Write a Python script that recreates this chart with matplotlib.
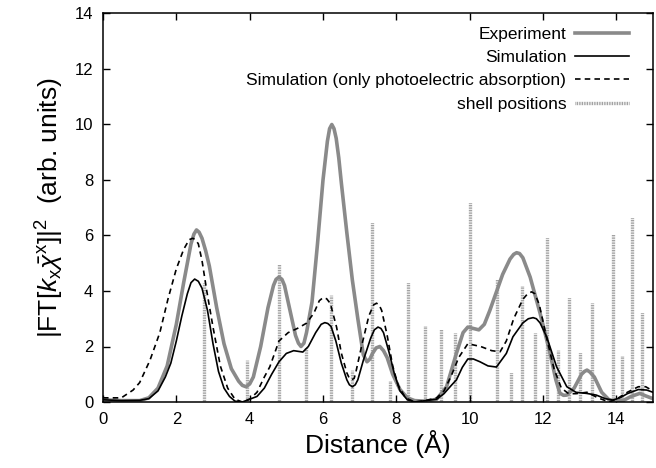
import matplotlib
matplotlib.use("Agg")
import matplotlib.pyplot as plt
from matplotlib.lines import Line2D

plt.rcParams['font.family'] = ['Liberation Sans', 'DejaVu Sans']
plt.rcParams['mathtext.fontset'] = 'custom'
plt.rcParams['mathtext.rm'] = 'Liberation Sans'
plt.rcParams['mathtext.it'] = 'Liberation Sans:italic'
plt.rcParams['mathtext.bf'] = 'Liberation Sans:bold'
plt.rcParams['lines.scale_dashes'] = False

# ---- data ----
exp_x = [0, 0.5, 1.0, 1.25, 1.5, 1.75, 2.0, 2.2, 2.4, 2.48, 2.55, 2.62, 2.7, 2.8, 2.9, 3.1, 3.3,
         3.5, 3.7, 3.8, 3.9, 4.0, 4.1, 4.3, 4.5, 4.65, 4.72, 4.8, 4.88, 4.95, 5.1, 5.25, 5.33,
         5.4, 5.48, 5.55, 5.7, 5.85, 6.0, 6.12, 6.18, 6.24, 6.3, 6.36, 6.43, 6.5, 6.65, 6.8,
         6.95, 7.1, 7.2, 7.28, 7.35, 7.45, 7.55, 7.65, 7.75, 7.9, 8.1, 8.3, 8.5, 8.8, 9.1, 9.37,
         9.64, 9.82, 9.95, 10.1, 10.25, 10.4, 10.55, 10.9, 11.1, 11.2, 11.28, 11.36, 11.45, 11.65,
         11.92, 12.19, 12.35, 12.46, 12.56, 12.65, 12.85, 13.05, 13.13, 13.2, 13.28, 13.4, 13.6,
         13.8, 14.0, 14.2, 14.4, 14.64, 14.8, 15.0]
exp_y = [0.08, 0.05, 0.05, 0.15, 0.5, 1.3, 2.8, 4.3, 5.7, 6.05, 6.2, 6.12, 5.9, 5.45, 4.9, 3.4, 2.1,
         1.2, 0.75, 0.6, 0.55, 0.65, 0.9, 2.0, 3.4, 4.2, 4.42, 4.5, 4.42, 4.2, 3.3, 2.4, 2.12,
         2.0, 2.12, 2.5, 3.6, 5.7, 8.0, 9.4, 9.85, 10.0, 9.85, 9.5, 8.8, 7.9, 6.1, 4.4,
         3.0, 1.7, 1.45, 1.55, 1.75, 1.95, 2.0, 1.85, 1.6, 1.0, 0.45, 0.15, 0.05, 0.03, 0.1, 0.55,
         1.76, 2.5, 2.7, 2.65, 2.6, 2.8, 3.3, 4.6, 5.15, 5.32, 5.38, 5.35, 5.2, 4.5,
         3.2, 1.77, 0.8, 0.32, 0.24, 0.25, 0.5, 1.0, 1.1, 1.15, 1.08, 0.9, 0.35,
         0.08, 0.03, 0.06, 0.2, 0.31, 0.22, 0.12]

sim_x = [0, 0.5, 1.0, 1.25, 1.5, 1.7, 1.85, 2.0, 2.15, 2.3, 2.4, 2.5, 2.6, 2.7, 2.85, 3.0, 3.15,
         3.3, 3.45, 3.6, 3.8, 4.0, 4.2, 4.4, 4.6, 4.8, 5.0, 5.2, 5.45, 5.6, 5.8, 5.95, 6.05, 6.13,
         6.22, 6.35, 6.5, 6.65, 6.72, 6.8, 6.88, 6.95, 7.1, 7.3, 7.4, 7.5, 7.58, 7.65, 7.8, 7.95,
         8.1, 8.3, 8.5, 8.8, 9.1, 9.3, 9.5, 9.64, 9.8, 9.95, 10.1, 10.28, 10.5, 10.73, 11.0,
         11.18, 11.45, 11.6, 11.73, 11.82, 11.92, 12.1, 12.37, 12.65, 12.9, 13.19, 13.45, 13.7,
         13.9, 14.1, 14.3, 14.6, 14.83, 15.0]
sim_y = [0.08, 0.05, 0.06, 0.12, 0.4, 0.9, 1.4, 2.2, 3.1, 3.9, 4.3, 4.43, 4.35, 4.1, 3.3, 2.1, 1.1,
         0.5, 0.2, 0.03, 0.0, 0.1, 0.2, 0.5, 1.0, 1.45, 1.75, 1.85, 1.8, 2.0, 2.5, 2.8, 2.86, 2.83,
         2.72, 2.2, 1.4, 0.8, 0.62, 0.55, 0.62, 0.8, 1.5, 2.3, 2.6, 2.7, 2.65, 2.5, 1.8, 1.0,
         0.4, 0.08, 0.0, 0.05, 0.1, 0.3, 0.6, 0.8, 1.25, 1.55, 1.55, 1.45, 1.3, 1.26, 1.75,
         2.35, 2.85, 3.0, 3.04, 3.0, 2.85, 2.35, 1.27, 0.55, 0.35, 0.31, 0.25, 0.12,
         0.07, 0.15, 0.3, 0.45, 0.43, 0.35]

pe_x = [0, 0.5, 0.82, 1.0, 1.28, 1.55, 1.77, 2.0, 2.2, 2.35, 2.45, 2.52, 2.6, 2.7, 2.83, 3.0, 3.2,
        3.4, 3.6, 3.8, 4.0, 4.2, 4.4, 4.55, 4.8, 5.05, 5.3, 5.55, 5.75, 5.9, 6.0, 6.1, 6.2, 6.37,
        6.5, 6.65, 6.72, 6.78, 6.85, 6.9, 7.05, 7.25, 7.38, 7.46, 7.53, 7.6, 7.75, 7.9, 8.05,
        8.25, 8.5, 8.8, 9.1, 9.3, 9.5, 9.7, 9.95, 10.3, 10.6, 10.83, 11.0, 11.2, 11.45, 11.58,
        11.69, 11.78, 11.9, 12.1, 12.3, 12.5, 12.7, 12.9, 13.2, 13.5, 13.8, 14.0, 14.3, 14.6,
        14.8, 15.0]
pe_y = [0.15, 0.15, 0.43, 0.7, 1.5, 2.5, 3.7, 4.8, 5.5, 5.85, 5.9, 5.85, 5.7, 5.1, 4.0, 2.7, 1.3,
        0.5, 0.1, 0.0, 0.1, 0.35, 0.9, 1.27, 2.2, 2.5, 2.65, 2.84, 3.2, 3.65, 3.76, 3.72, 3.55, 2.7,
        1.76, 1.05, 0.85, 0.8, 0.85, 1.1, 2.0, 3.1, 3.5, 3.56, 3.5, 3.3, 2.4, 1.3, 0.6,
        0.15, 0.0, 0.05, 0.15, 0.4, 0.95, 1.6, 2.1, 2.0, 1.85, 1.81, 2.2, 3.0, 3.7, 3.9,
        3.97, 3.9, 3.5, 2.3, 1.2, 0.5, 0.3, 0.3, 0.35, 0.15, 0.0, 0.1, 0.35, 0.55,
        0.55, 0.4]

shell_x = [2.76, 3.93, 4.79, 5.54, 6.21, 6.8, 7.35, 7.83, 8.31, 8.78, 9.21, 9.6, 10.01, 10.74,
           11.12, 11.43, 11.78, 12.12, 12.4, 12.72, 13.01, 13.33, 13.9, 14.16, 14.43, 14.69]
shell_h = [4.3, 1.5, 4.97, 2.0, 3.86, 1.15, 6.48, 0.76, 4.32, 2.74, 2.63, 2.48, 7.2, 4.43,
           1.09, 4.18, 2.5, 5.95, 1.87, 3.78, 1.81, 3.58, 6.05, 1.66, 6.67, 3.25]

labels = ["Experiment", "Simulation", "Simulation (only photoelectric absorption)", "shell positions"]
x_ticks = [0, 2, 4, 6, 8, 10, 12, 14]
y_ticks = [0, 2, 4, 6, 8, 10, 12, 14]

# ---- figure ----
fig = plt.figure(figsize=(6.56, 4.68), dpi=100)
ax = fig.add_axes([103/656, 66/468, 550/656, 388.5/468])

gray = '#8a8a8a'
shell_color = '#909090'
dot = (0, (0.6, 0.6))
dash = (0, (4, 3))
ax.vlines(shell_x, 0, shell_h, colors=shell_color, linewidth=2.4, linestyles=[dot], zorder=1)
ax.plot(exp_x, exp_y, color=gray, linewidth=2.6, zorder=2, solid_joinstyle='round')
ax.plot(sim_x, sim_y, color='black', linewidth=1.2, zorder=3, solid_joinstyle='round')
ax.plot(pe_x, pe_y, color='black', linewidth=1.2, linestyle=dash, zorder=3)

ax.set_xlim(0, 15)
ax.set_ylim(0, 14)
ax.set_xticks(x_ticks)
ax.set_yticks(y_ticks)
ax.tick_params(direction='in', length=5, width=1.0, top=True, right=True,
               labelsize=12, pad=7)
for s in ax.spines.values():
    s.set_linewidth(1.1)

ax.set_xlabel('Distance (Å)', fontsize=19, labelpad=2)
ax.set_ylabel(r'$|\mathrm{FT}[k_{\mathrm{x}}\bar{\chi}^{\mathrm{x}}]|^2$  (arb. units)',
              fontsize=19, labelpad=6)

handles = [Line2D([], [], color=gray, linewidth=2.6),
           Line2D([], [], color='black', linewidth=1.2),
           Line2D([], [], color='black', linewidth=1.2, linestyle=dash),
           Line2D([], [], color=shell_color, linewidth=2.4, linestyle=dot)]
ax.legend(handles, labels, loc='upper right', bbox_to_anchor=(0.975, 0.992), frameon=False,
          markerfirst=False, fontsize=12.5, handlelength=3.1, labelspacing=0.46,
          handletextpad=0.5, borderaxespad=0.2)

fig.savefig('out.png', dpi=100)
